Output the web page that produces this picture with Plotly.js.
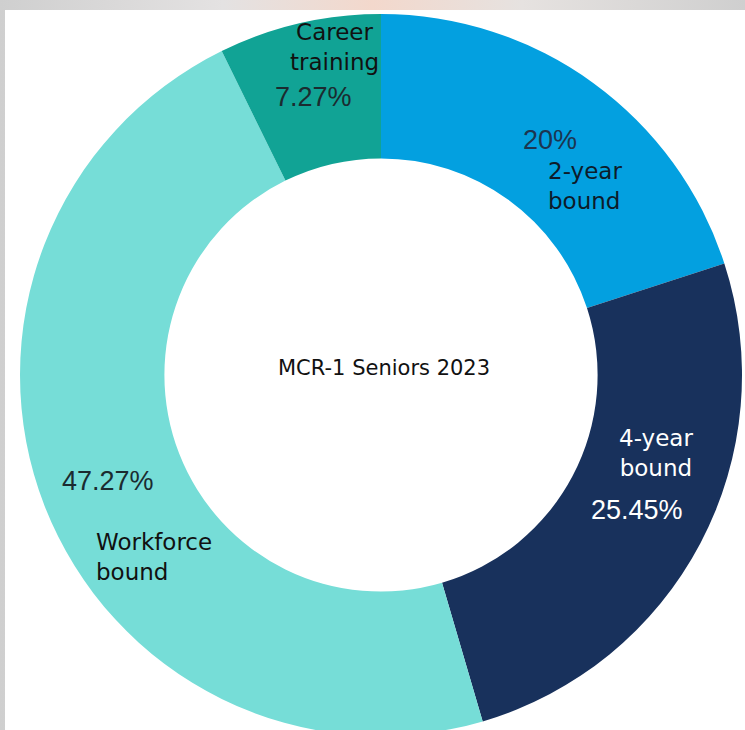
<!DOCTYPE html>
<html>
<head>
<meta charset="utf-8">
<script src="https://cdn.plot.ly/plotly-3.0.1.min.js"></script>
<style>
  html, body { margin: 0; padding: 0; width: 745px; height: 730px; overflow: hidden;
    background: linear-gradient(90deg, #cfcfcf 0%, #e4e2e2 30%, #f3d8cc 50%, #e6e2e0 70%, #cfcfcf 100%); }
  #paperbg { position: absolute; left: 5px; top: 10px; width: 740px; height: 720px; background: #ffffff; }
  #chart { position: absolute; left: 20px; top: 14px; width: 722px; height: 722px; }
</style>
</head>
<body>
<div id="paperbg"></div>
<div id="chart"></div>
<script>
// ---- data ----
const categories = ["2-year\nbound", "4-year\nbound", "Workforce\nbound", "Career\ntraining"];
const counts = [11, 14, 26, 4];
const sliceColors = ["#03a0e0", "#18315c", "#76ddd7", "#11a395"];
const centerTitle = "MCR-1 Seniors 2023";

// ---- geometry of the plot div (page pixels) ----
const DIV_LEFT = 20, DIV_TOP = 14, SIZE = 722;
function px(x) { return (x - DIV_LEFT) / SIZE; }
function py(y) { return 1 - (y - DIV_TOP) / SIZE; }

const total = counts.reduce((a, b) => a + b, 0);
const pctText = counts.map(v => (+(v / total * 100).toFixed(2)) + "%");
const nameText = categories.map(c => c.replace("\n", "<br>"));

// label placement (page pixel coords) and styles per slice
const namePos = [[546, 186, "left"], [656, 453, "center"], [94, 557, "left"], [334, 47, "center"]];
const pctPos  = [[550, 140], [637, 510], [108, 481], [313, 97]];
const nameColor = ["#0d1b2a", "#ffffff", "#111111", "#111111"];
const pctColor  = ["#1c3550", "#ffffff", "#1b2b30", "#1b2b30"];

const annotations = [];
for (let i = 0; i < categories.length; i++) {
  annotations.push({
    xref: "paper", yref: "paper",
    x: px(namePos[i][0]), y: py(namePos[i][1]),
    xanchor: namePos[i][2], yanchor: "middle", align: namePos[i][2],
    text: nameText[i], showarrow: false,
    font: { family: "DejaVu Sans", size: 23, color: nameColor[i] }
  });
  annotations.push({
    xref: "paper", yref: "paper",
    x: px(pctPos[i][0]), y: py(pctPos[i][1]),
    xanchor: "center", yanchor: "middle",
    text: pctText[i], showarrow: false,
    font: { family: "Liberation Sans, Arial", size: 27, color: pctColor[i] }
  });
}
annotations.push({
  xref: "paper", yref: "paper", x: px(384), y: py(368),
  xanchor: "center", yanchor: "middle", text: centerTitle, showarrow: false,
  font: { family: "DejaVu Sans", size: 21, color: "#111111" }
});

const trace = {
  type: "pie",
  labels: categories,
  values: counts,
  hole: 0.6,
  sort: false,
  direction: "clockwise",
  rotation: 0,
  textinfo: "none",
  hoverinfo: "skip",
  marker: { colors: sliceColors, line: { width: 0 } },
  domain: { x: [0, 1], y: [0, 1] }
};

const layout = {
  width: SIZE, height: SIZE,
  margin: { l: 0, r: 0, t: 0, b: 0, pad: 0 },
  paper_bgcolor: "rgba(0,0,0,0)",
  showlegend: false,
  annotations: annotations
};

Plotly.newPlot("chart", [trace], layout, { staticPlot: true, displayModeBar: false });
</script>
</body>
</html>
